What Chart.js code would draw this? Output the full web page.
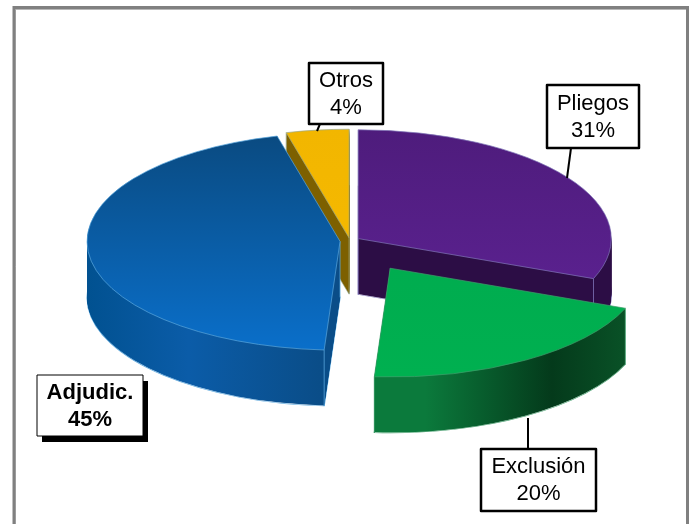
<!DOCTYPE html>
<html><head><meta charset="utf-8">
<script src="https://cdn.jsdelivr.net/npm/chart.js@4"></script>
<style>html,body{margin:0;padding:0;background:#fff}canvas{display:block}</style>
</head><body><canvas id="c" width="689" height="524"></canvas>
<script>
const categories = ["Pliegos", "Exclusión", "Adjudic.", "Otros"];
const shares = [31, 20, 45, 4];

// styling and geometry
const topStops = [["#4e1c7c","#5f2396"],["#00a94e","#00b050"],["#0a4a80","#0a6fca"],["#f2b600","#f7bb00"]];
const wallStops = [
  [[0,"#2c0d45"],[1,"#2c0d45"]],
  [[0,"#0b7a3c"],[0.49,"#0b7a3c"],[0.74,"#043a1b"],[1,"#0d6430"]],
  [[0,"#00508e"],[0.22,"#0b5ca8"],[0.48,"#0a4d88"],[1,"#0a4d88"]],
  [[0,"#7d6000"],[1,"#7d6000"]]
];
const edgeColors = ["#7f74b8","#3f9d6a","#58a6dc","#9aa888"];
const explode = [10, 75, 10, 7];
const drawOrder = [3, 0, 2, 1];
const tilt = 0.43, depth = 56, baseY = 241;
const boxes = [
 {x:547,y:85,w:92,h:63,lead:[571,148,567,178]},
 {x:481,y:449,w:115,h:62,lead:[528,449,528,418]},
 {x:37,y:375,w:106,h:61,bold:true,shadow:true},
 {x:309,y:63,w:74,h:61,lead:[320,124,317,131]}
];

function faceOptions(bg, border, bw){
  return {backgroundColor:bg,borderColor:border,borderWidth:bw,borderAlign:'center',borderDash:[],borderDashOffset:0,
    borderJoinStyle:'round',borderRadius:0,spacing:0,offset:0,circular:true,selfJoin:false};
}
const pie3d = {
  id:'pie3d',
  beforeDraw(chart){
    const c = chart.ctx;
    c.save();
    c.fillStyle='#fff'; c.fillRect(0,0,689,524);
    c.strokeStyle='#b8b8b8'; c.lineWidth=1;
    c.beginPath(); c.moveTo(15.5,524); c.lineTo(15.5,9.5); c.lineTo(686,9.5); c.stroke();
    c.strokeStyle='#808080'; c.lineWidth=3;
    c.beginPath(); c.moveTo(14,524); c.lineTo(14,7.5); c.lineTo(687.5,7.5); c.lineTo(687.5,524); c.stroke();
    c.restore();
  },
  beforeDatasetDraw(chart,args){
    const c = chart.ctx, arcs = args.meta.data;
    drawOrder.forEach(i=>{
      const a = arcs[i], orig = a.options, r = a.outerRadius;
      const mid = (a.startAngle+a.endAngle)/2;
      const ox = Math.cos(mid)*explode[i], oy = Math.sin(mid)*explode[i];
      const place = d=>{ c.translate(0,baseY+d); c.scale(1,tilt); c.translate(ox,oy-a.y); };
      // bottom rim first, so the walls hide its straight edges
      a.options = faceOptions('rgba(0,0,0,0)',edgeColors[i],1.2);
      c.save(); place(depth); a.draw(c); c.restore();
      const wg = c.createLinearGradient(a.x-r+ox,0,a.x+r+ox,0);
      wallStops[i].forEach(s=>wg.addColorStop(s[0],s[1]));
      a.options = faceOptions(wg,'rgba(0,0,0,0)',0);
      for(let d=depth-0.5;d>=1;d-=0.5){ c.save(); place(d); a.draw(c); c.restore(); }
      // vertical corners
      const pts = [[a.x,a.y],[a.x+Math.cos(a.startAngle)*r,a.y+Math.sin(a.startAngle)*r],[a.x+Math.cos(a.endAngle)*r,a.y+Math.sin(a.endAngle)*r]];
      c.save(); c.strokeStyle=edgeColors[i]; c.lineWidth=1; c.globalAlpha=0.8;
      pts.forEach(p=>{
        const px=p[0]+ox, py=baseY+(p[1]+oy-a.y)*tilt;
        c.beginPath(); c.moveTo(px,py); c.lineTo(px,py+depth); c.stroke();
      });
      c.restore();
      // top face
      const tg = c.createLinearGradient(0,a.y-r,0,a.y+r);
      tg.addColorStop(0,topStops[i][0]); tg.addColorStop(1,topStops[i][1]);
      a.options = faceOptions(tg,edgeColors[i],1);
      c.save(); place(0); a.draw(c); c.restore();
      a.options = orig;
    });
    return false;
  },
  afterDraw(chart){
    const c = chart.ctx;
    c.save();
    c.textAlign='center'; c.textBaseline='middle';
    boxes.forEach((b,i)=>{
      if(b.lead){ c.strokeStyle='#000'; c.lineWidth=2; c.beginPath(); c.moveTo(b.lead[0],b.lead[1]); c.lineTo(b.lead[2],b.lead[3]); c.stroke(); }
      if(b.shadow){ c.fillStyle='#000'; c.fillRect(b.x+5,b.y+6,b.w,b.h); }
      c.fillStyle='#fff'; c.fillRect(b.x,b.y,b.w,b.h);
      c.strokeStyle='#000'; c.lineWidth=b.shadow?1:2.5; c.lineJoin='round';
      c.strokeRect(b.x,b.y,b.w,b.h);
      c.fillStyle='#000';
      c.font=(b.bold?'bold ':'')+'22px "Liberation Sans", Arial, sans-serif';
      const cx=b.x+b.w/2, cy=b.y+b.h/2;
      c.fillText(categories[i],cx,cy-13);
      c.fillText(shares[i]+'%',cx,cy+14);
    });
    c.restore();
  }
};
new Chart(document.getElementById('c'),{
  type:'pie',
  data:{labels:categories,datasets:[{data:shares,backgroundColor:topStops.map(s=>s[1]),borderWidth:0,radius:253}]},
  options:{responsive:false,animation:false,devicePixelRatio:1,
    layout:{padding:{left:11}},
    plugins:{legend:{display:false},tooltip:{enabled:false}},
    events:[]},
  plugins:[pie3d]
});
</script></body></html>
